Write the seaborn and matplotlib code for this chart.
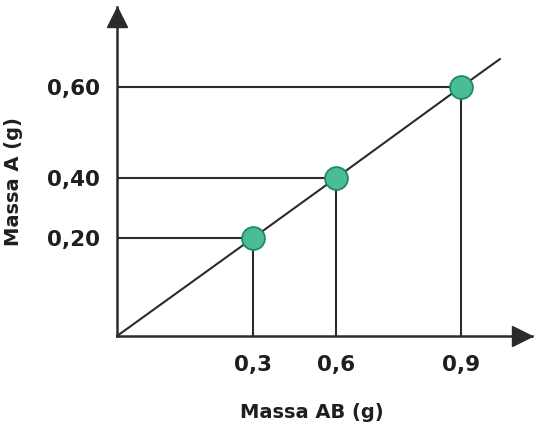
import numpy as np
import matplotlib
matplotlib.use("Agg")
import matplotlib.pyplot as plt
import seaborn as sns

# ---- data ----
mass_ab = [0.3, 0.6, 0.9]          # Massa AB (g)
mass_a = [0.20, 0.40, 0.60]        # Massa A (g)
x_tick_labels = ["0,3", "0,6", "0,9"]
y_tick_labels = ["0,20", "0,40", "0,60"]
x_title = "Massa AB (g)"
y_title = "Massa A (g)"

# ---- layout (schematic, non-uniform axis spacing in pixels) ----
X_KNOTS = [0.0, 0.3, 0.6, 0.9, 1.5]
X_PIX = [0.0, 136.0, 219.0, 344.0, 594.0]
Y_KNOTS = [0.0, 0.2, 0.4, 0.6, 1.2]
Y_PIX = [0.0, 98.0, 158.0, 249.0, 522.0]

def fx(v):
    return np.interp(v, X_KNOTS, X_PIX)

def ix(p):
    return np.interp(p, X_PIX, X_KNOTS)

def fy(v):
    return np.interp(v, Y_KNOTS, Y_PIX)

def iy(p):
    return np.interp(p, Y_PIX, Y_KNOTS)

INK = "#2b2b2b"
TXT = "#1e1e1e"
FACE = "#4bbd95"
EDGE = "#1f8a5f"

sns.set_theme(style="white")
plt.rcParams["font.family"] = ["DejaVu Sans"]

W, H = 538, 433
fig = plt.figure(figsize=(W / 100, H / 100), dpi=100)
ax_l, ax_r, ax_t, ax_b = 117, 532, 7, 336
ax = fig.add_axes([ax_l / W, (H - ax_b) / H, (ax_r - ax_l) / W, (ax_b - ax_t) / H])
ax.set_xscale("function", functions=(fx, ix))
ax.set_yscale("function", functions=(fy, iy))
ax.set_xlim(0, ix(ax_r - ax_l))
ax.set_ylim(0, iy(ax_b - ax_t))

# guide lines
ax.hlines(mass_a, 0, mass_ab, color=INK, lw=1.5, zorder=2)
ax.vlines(mass_ab, 0, mass_a, color=INK, lw=1.5, zorder=2)

# proportional line through origin, extended beyond last point
x_end, y_end = ix(383), iy(277)
line_x = [0.0] + mass_ab + [x_end]
line_y = [0.0] + mass_a + [y_end]
ax.plot(line_x, line_y, color=INK, lw=1.5, zorder=3, clip_on=False)

sns.scatterplot(x=mass_ab, y=mass_a, ax=ax, s=270, color=FACE,
                edgecolor=EDGE, linewidth=1.3, zorder=5, clip_on=False)

# axes and arrows
for side in ["top", "right"]:
    ax.spines[side].set_visible(False)
for side in ["left", "bottom"]:
    ax.spines[side].set_color(INK)
    ax.spines[side].set_linewidth(1.8)
ax_w, ax_h = ax_r - ax_l, ax_b - ax_t
ax.plot(1 - 9.7 / ax_w, 0, ">", color=INK, ms=14, transform=ax.transAxes, clip_on=False, zorder=6)
ax.plot(0, 1 - 9.7 / ax_h, "^", color=INK, ms=14, transform=ax.transAxes, clip_on=False, zorder=6)

ax.set_xticks(mass_ab)
ax.set_xticklabels(x_tick_labels)
ax.set_yticks(mass_a)
ax.set_yticklabels(y_tick_labels)
ax.xaxis.set_minor_locator(matplotlib.ticker.NullLocator())
ax.yaxis.set_minor_locator(matplotlib.ticker.NullLocator())
ax.tick_params(axis="both", length=0, labelsize=15.5, labelcolor=TXT)
ax.tick_params(axis="x", pad=14)
ax.tick_params(axis="y", pad=12)
for lab in ax.get_xticklabels() + ax.get_yticklabels():
    lab.set_fontweight("bold")

ax.set_xlabel(x_title, fontsize=14, fontweight="bold", color=TXT, va="center")
ax.set_ylabel(y_title, fontsize=14, fontweight="bold", color=TXT, va="center")
ax.xaxis.set_label_coords((312 - ax_l) / ax_w, (ax_b - 412) / ax_h)
ax.yaxis.set_label_coords((14 - ax_l) / ax_w, (ax_b - 182) / ax_h)

ax.grid(False)
fig.savefig("out.png", dpi=100, facecolor="white")
